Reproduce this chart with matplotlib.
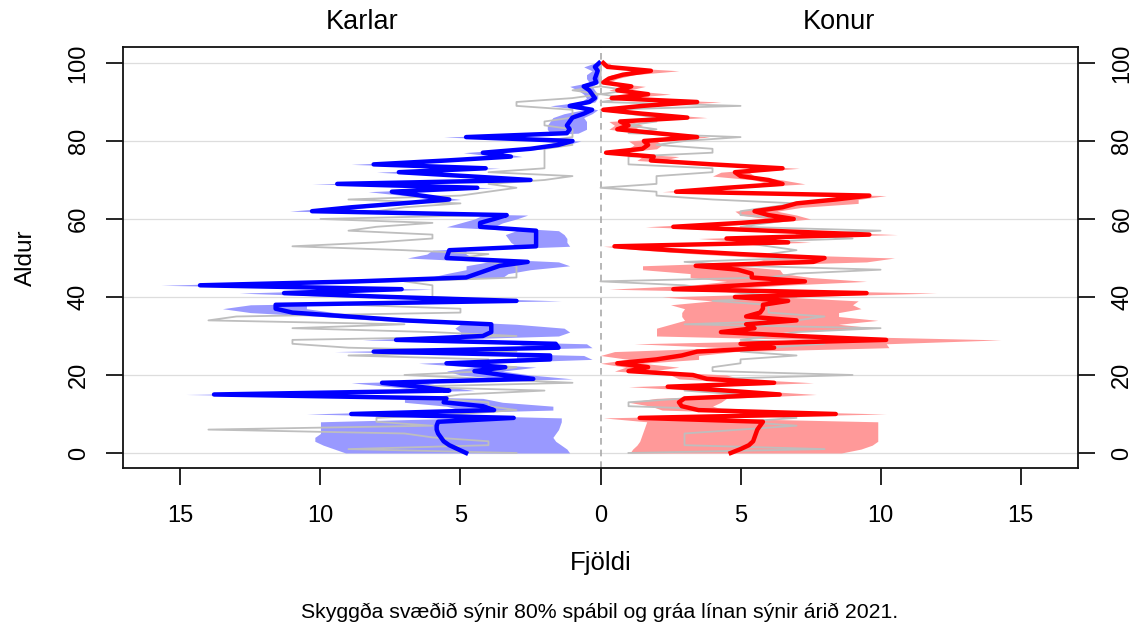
import numpy as np
import matplotlib
matplotlib.use('Agg')
import matplotlib.pyplot as plt

plt.rcParams['font.family'] = ['Liberation Sans', 'DejaVu Sans']

ages = np.arange(0, 101)

# Karlar: median, 80% band (lower/upper) and 2021
karlar_median = [4.8, 5.1, 5.4, 5.6, 5.7, 5.8, 5.85, 5.85, 5.8, 3.1,
                 8.9, 3.8, 4.2, 5.6, 5.5, 13.8, 5.4, 6.5, 7.8, 2.4,
                 3.5, 4.5, 3.4, 5.5, 1.8, 1.8, 8.1, 1.5, 1.6, 7.3,
                 4.2, 3.9, 3.9, 3.9, 7.0, 9.0, 11.0, 11.6, 11.6, 3.0,
                 7.5, 11.3, 7.1, 14.3, 8.7, 4.8, 4.4, 4.0, 3.6, 2.6,
                 5.5, 5.45, 5.4, 2.3, 2.3, 2.3, 2.3, 2.3, 4.3, 4.3,
                 3.8, 3.35, 10.3, 8.9, 7.1, 5.4, 6.4, 7.45, 4.4, 9.4,
                 2.5, 4.8, 7.2, 4.1, 8.1, 5.5, 3.2, 4.2, 2.5, 1.5,
                 1.0, 4.8, 1.2, 1.1, 1.2, 1.1, 1.0, 0.6, 0.3, 1.1,
                 0.4, 0.2, 0.3, 0.4, 0.6, 0.15, 0.2, 0.15, 0.1, 0.2,
                 0.05]
karlar_lower = [1.1, 1.2, 1.4, 1.6, 1.7, 1.6, 1.5, 1.45, 1.4, 1.4,
                7.0, 1.7, 1.7, 3.5, 4.2, 11.5, 4.5, 5.5, 6.3, 1.0,
                2.5, 3.5, 2.3, 4.5, 0.3, 0.6, 6.5, 0.3, 0.5, 6.3,
                1.5, 1.1, 1.3, 3.0, 6.0, 8.0, 9.5, 10.5, 10.5, 1.4,
                6.0, 10.0, 6.0, 12.5, 7.0, 3.5, 3.3, 2.5, 1.1, 1.5,
                4.5, 4.8, 4.8, 1.1, 1.2, 1.2, 1.3, 1.5, 3.8, 3.5,
                3.0, 2.6, 9.5, 8.3, 6.6, 5.0, 6.0, 7.0, 3.8, 8.9,
                2.1, 4.3, 6.7, 3.6, 7.6, 5.0, 2.8, 3.6, 2.0, 1.2,
                0.7, 4.2, 0.8, 0.5, 0.5, 0.5, 0.6, 0.3, 0.1, 0.8,
                0.2, 0.1, 0.1, 0.2, 0.3, 0.05, 0.05, 0.05, 0.02, 0.05,
                0.0]
karlar_upper = [9.1, 9.5, 9.9, 10.2, 10.2, 10.0, 10.0, 10.0, 10.0, 4.5,
                10.5, 5.0, 5.5, 7.0, 7.0, 14.8, 6.3, 7.5, 8.9, 3.5,
                5.0, 5.5, 4.5, 6.5, 3.0, 3.0, 9.5, 2.5, 3.0, 8.5,
                5.0, 5.0, 5.2, 5.0, 8.0, 10.0, 12.5, 13.5, 12.5, 4.0,
                9.0, 12.9, 8.0, 15.7, 10.5, 6.1, 5.5, 4.8, 4.8, 4.0,
                6.9, 6.2, 6.0, 3.0, 3.2, 3.3, 3.4, 3.0, 5.5, 5.0,
                4.5, 4.2, 11.1, 9.5, 7.6, 6.0, 7.0, 8.3, 4.8, 10.3,
                3.0, 5.3, 8.0, 4.6, 8.9, 6.0, 3.7, 4.9, 3.0, 1.9,
                1.5, 5.6, 1.8, 1.9, 1.9, 1.8, 1.7, 1.3, 0.6, 1.8,
                0.7, 0.5, 0.6, 0.8, 1.1, 0.4, 0.5, 0.5, 0.3, 0.6,
                0.2]
karlar_2021 = [3, 9, 4, 4, 6, 7, 14, 6, 8, 8,
               5, 3, 4, 4, 6, 5, 2, 7, 1, 4,
               7, 4, 3, 5, 4, 9, 3, 9, 11, 11,
               3, 6, 11, 7, 14, 13, 5, 5, 9, 3,
               6, 6, 6, 6, 7, 3, 3, 3, 3, 4,
               5, 4, 7, 11, 8, 6, 6, 9, 8, 6,
               10, 4, 8, 7, 5, 9, 5, 4, 3, 4,
               2, 1, 4, 2, 2, 2, 2, 2, 2, 1,
               2, 1, 1, 1, 2, 2, 1, 1, 1, 3,
               3, 1, 0, 1, 0, 0, 0, 0, 0, 0,
               0]

# Konur
konur_median = [4.65, 5.0, 5.3, 5.45, 5.5, 5.55, 5.6, 5.7, 5.8, 1.4,
                8.4, 3.5, 2.9, 2.8, 3.0, 6.4, 4.5, 2.4, 6.2, 3.8,
                3.3, 1.0, 1.7, 0.6, 2.0, 2.9, 3.45, 6.2, 5.0, 10.2,
                7.0, 4.3, 5.5, 5.2, 7.0, 5.2, 5.7, 5.8, 5.8, 6.7,
                4.8, 9.5, 2.6, 5.0, 7.3, 5.4, 5.4, 4.9, 3.4, 7.6,
                8.0, 5.0, 2.5, 0.5, 6.7, 4.5, 9.6, 6.0, 2.6, 5.0,
                6.9, 6.0, 5.5, 6.5, 7.0, 8.4, 9.6, 2.7, 4.5, 6.5,
                6.0, 5.0, 4.8, 6.5, 4.0, 1.8, 1.9, 0.2, 1.5, 1.7,
                1.55, 3.45, 2.0, 0.6, 1.0, 0.7, 3.1, 1.5, 0.1, 1.5,
                3.45, 0.4, 1.7, 0.6, 1.1, 0.1, 0.3, 0.8, 1.8, 0.25,
                0.1]
konur_lower = [1.05, 1.15, 1.3, 1.4, 1.45, 1.5, 1.55, 1.6, 1.65, 0.1,
               7.0, 2.2, 1.8, 1.0, 2.0, 5.5, 3.5, 1.0, 5.3, 2.8,
               2.5, 0.5, 0.9, 0.0, 1.0, 0.0, 0.5, 4.5, 1.2, 8.0,
               2.0, 2.0, 2.0, 2.5, 3.0, 2.9, 2.9, 3.0, 2.5, 4.0,
               2.2, 7.0, 0.3, 3.2, 4.5, 3.2, 3.2, 1.5, 1.5, 5.5,
               6.0, 3.5, 1.5, 0.1, 5.5, 3.5, 8.5, 5.0, 1.6, 4.3,
               6.0, 5.0, 4.8, 6.0, 7.0, 7.8, 8.8, 2.2, 4.0, 6.0,
               5.5, 4.0, 4.3, 6.0, 3.5, 1.3, 1.5, 0.05, 1.0, 1.2,
               1.0, 3.0, 1.5, 0.3, 0.5, 0.3, 2.6, 1.0, 0.0, 1.0,
               3.0, 0.1, 1.3, 0.3, 0.7, 0.0, 0.1, 0.4, 1.4, 0.1,
               0.0]
konur_upper = [8.6, 9.3, 9.7, 9.9, 9.9, 9.9, 9.9, 9.9, 9.9, 3.5,
               10.2, 4.5, 4.0, 4.3, 4.5, 7.7, 5.5, 3.5, 7.6, 5.0,
               4.5, 1.8, 2.8, 1.5, 3.5, 3.5, 4.8, 10.3, 10.2, 14.3,
               8.0, 6.5, 9.9, 8.5, 9.9, 8.5, 8.5, 9.3, 9.0, 9.2,
               6.5, 12.0, 4.5, 6.5, 9.5, 7.5, 6.5, 6.4, 4.8, 9.5,
               10.5, 6.0, 3.5, 1.5, 7.5, 5.5, 10.6, 7.0, 3.5, 6.0,
               7.5, 7.0, 6.3, 7.2, 9.2, 9.2, 10.2, 3.5, 5.0, 7.3,
               6.5, 5.5, 5.3, 7.1, 4.5, 2.2, 2.8, 0.6, 2.0, 2.2,
               2.0, 3.9, 2.5, 1.2, 1.5, 1.1, 3.8, 2.0, 0.4, 2.0,
               4.3, 0.8, 2.5, 1.0, 1.6, 0.3, 0.6, 1.2, 2.8, 0.5,
               0.3]
konur_2021 = [1, 8, 3, 3, 3, 3, 5, 7, 5, 7,
              5, 5, 1, 1, 3, 5, 3, 4, 5, 4,
              9, 4, 4, 5, 5, 7, 5, 6, 8, 5,
              6, 7, 10, 3, 7, 8, 6, 6, 6, 4,
              7, 5, 4, 3, 0, 6, 7, 10, 5, 3,
              7, 6, 7, 6, 5, 9, 7, 10, 5, 6,
              7, 5, 5, 6, 7, 4, 2, 2, 0, 2,
              2, 2, 4, 4, 1, 1, 1, 4, 4, 2,
              3, 5, 1, 2, 1, 2, 2, 1, 0, 5,
              0, 1, 0, 1, 0, 0, 0, 0, 0, 0,
              0]

xticks = [-15, -10, -5, 0, 5, 10, 15]
yticks = [0, 20, 40, 60, 80, 100]

fig = plt.figure(figsize=(11.47, 6.32), dpi=100)
ax = fig.add_axes([123/1147, 1 - 468/632, 955/1147, 421/632])

for y in yticks:
    ax.axhline(y, color='#dddddd', lw=0.9, zorder=0)
ax.axvline(0, color='#aaaaaa', lw=1.2, ls=(0, (4, 3)), zorder=1)

# men drawn on negative side
ax.fill_betweenx(ages, -np.array(karlar_lower), -np.array(karlar_upper),
                 color='#9999ff', lw=0, zorder=2)
ax.fill_betweenx(ages, konur_lower, konur_upper, color='#ff9999', lw=0, zorder=2)
ax.plot(-np.array(karlar_2021), ages, color='#bebebe', lw=1.3, zorder=3)
ax.plot(konur_2021, ages, color='#bebebe', lw=1.3, zorder=3)
ax.plot(-np.array(karlar_median), ages, color='#0000ff', lw=3.2, zorder=4)
ax.plot(konur_median, ages, color='#ff0000', lw=3.2, zorder=4)

ax.set_xlim(-17.05, 17.05)
ax.set_ylim(-3.85, 104.1)
ax.set_xticks(xticks)
ax.set_xticklabels([str(abs(t)) for t in xticks])
ax.set_yticks(yticks)
ax.tick_params(axis='both', length=12, width=1.2, labelsize=17, direction='out')
ax.tick_params(axis='x', pad=15)
ax.tick_params(axis='y', pad=12, right=True, labelright=True, labelrotation=90)
for lab in ax.get_yticklabels():
    lab.set_va('center')
for sp in ax.spines.values():
    sp.set_linewidth(1.3)
    sp.set_color('#111111')

ax.set_ylabel('Aldur', fontsize=17.5, labelpad=22)
ax.set_xlabel('Fjöldi', fontsize=18.5, labelpad=17)
fig.text(362/1147, 1 - 22/632, 'Karlar', ha='center', va='center', fontsize=19.5)
fig.text(839/1147, 1 - 22/632, 'Konur', ha='center', va='center', fontsize=19.5)
fig.text(600/1147, 1 - 612/632, 'Skyggða svæðið sýnir 80% spábil og gráa línan sýnir árið 2021.',
         ha='center', va='center', fontsize=15.3)

fig.savefig('out.png', dpi=100)
